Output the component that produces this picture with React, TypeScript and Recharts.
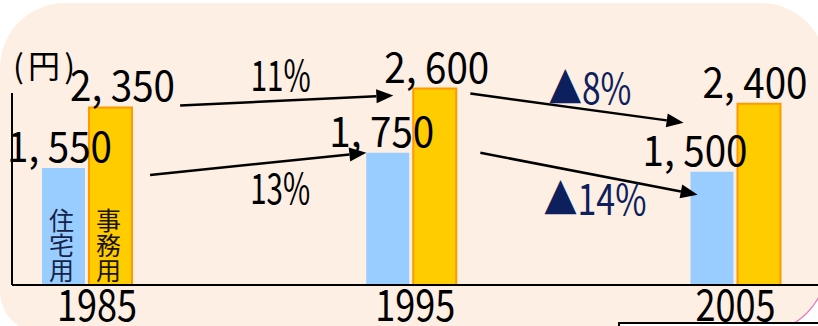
import { ComposedChart, Bar, XAxis, YAxis, LabelList, ReferenceLine } from 'recharts';

const years = [1985, 1995, 2005];
const residential = [1550, 1750, 1500];
const office = [2350, 2600, 2400];
const seriesNames = ['住宅用', '事務用'];
const changeTexts = ['11%', '13%', '▲8%', '▲14%'];
const changeSeries = ['office', 'residential', 'office', 'residential'];
const changeFrom = [0, 0, 1, 1];
const changeTo = [1, 1, 2, 2];

const data = years.map((year, i) => ({ year, residential: residential[i], office: office[i] }));

const FONT = '"Noto Sans CJK JP", sans-serif';
const X_DOMAIN: [number, number] = [1982.684, 2007.541];
const Y_DOMAIN: [number, number] = [0, 3600];
const Y_AXIS_TOP = 2540;

// hand placed bits of the original slide (pixel nudges)
const tickDx = [10, 4, 0];
const residentialLabelDx = [-4, -6, -17];
const officeLabelDx = [12, 2, -4];
const arrowLayout = [
  { sx: 93, sy: -2, ex: -18, ey: 7, tdx: -6, tdy: -10, color: '#000' },
  { sx: 63, sy: 7, ex: -45, ey: 0, tdx: 22, tdy: 42, color: '#000' },
  { sx: 59, sy: 5, ex: -52, ey: 19, tdx: 13, tdy: -6, color: '#0d1f5c' },
  { sx: 69, sy: 0, ex: -38, ey: 23, tdx: 6, tdy: 40, color: '#0d1f5c' },
];

// narrow half-width look of the original font
const charW: Record<string, number> = { ',': 7, ' ': 18, '%': 20, '▲': 43 };
const textW = (s: string) => s.split('').reduce((w, ch) => w + (charW[ch] ?? 20), 0);

const fmt = (v: number) => v.toLocaleString('en-US').replace(',', ', ');

const NarrowText = ({ x, y, text, size, color = '#000' }: any) => (
  <text
    x={x}
    y={y}
    textAnchor="middle"
    fontSize={size}
    fontFamily={FONT}
    fill={color}
    textLength={textW(text)}
    lengthAdjust="spacingAndGlyphs"
  >
    {text}
  </text>
);

const valueLabel = (dx: number[]) => (props: any) => {
  const vb = props.viewBox || props;
  const i = props.index;
  return <NarrowText x={vb.x + vb.width / 2 + dx[i]} y={vb.y - 6} text={fmt(Number(props.value))} size={42} />;
};

const yearTick = (props: any) => (
  <NarrowText x={props.x + tickDx[props.index]} y={321} text={String(props.payload.value)} size={44} />
);

const arrowShape = (idx: number) => (p: any) => {
  const l = arrowLayout[idx];
  const sx = p.x1 + l.sx, sy = p.y1 + l.sy;
  const ex = p.x2 + l.ex, ey = p.y2 + l.ey;
  const a = Math.atan2(ey - sy, ex - sx);
  const c = Math.cos(a), s = Math.sin(a);
  const bx = ex - 17 * c, by = ey - 17 * s;
  const tx = (sx + ex) / 2 + l.tdx;
  const lineY = sy + ((tx - sx) / (ex - sx)) * (ey - sy);
  return (
    <g>
      <line x1={sx} y1={sy} x2={bx} y2={by} stroke="#000" strokeWidth={2.5} />
      <polygon
        points={`${ex},${ey} ${bx - 7 * s},${by + 7 * c} ${bx + 7 * s},${by - 7 * c}`}
        fill="#000"
      />
      <NarrowText x={tx} y={lineY + l.tdy} text={changeTexts[idx]} size={42} color={l.color} />
    </g>
  );
};

const yAxisShape = (p: any) => (
  <g>
    <line x1={p.x1} y1={p.y1} x2={p.x2} y2={p.y2} stroke="#000" strokeWidth={2} />
    <text
      x={p.x2 + 1}
      y={p.y2 - 15}
      fontSize={32}
      fontFamily={FONT}
      fill="#000"
      textLength={62}
      lengthAdjust="spacing"
    >
      (円)
    </text>
  </g>
);

const verticalName = (name: string, color: string) => (props: any) => {
  if (props.index !== 0) return null;
  const vb = props.viewBox || props;
  return (
    <text
      x={vb.x + vb.width / 2 - 2}
      y={vb.y + vb.height - 2}
      textAnchor="end"
      fontSize={25}
      fontFamily={FONT}
      fill={color}
      style={{ writingMode: 'vertical-rl' }}
    >
      {name}
    </text>
  );
};

export default function App() {
  return (
    <div style={{ position: 'absolute', left: 0, top: 0, width: 818, height: 326, background: '#fff', overflow: 'hidden' }}>
      <svg width={818} height={326} style={{ position: 'absolute', left: 0, top: 0 }}>
        <path
          d="M65,3 H761 A65,65 0 0 1 826,68 V267 A65,65 0 0 1 761,332 H40 A40,40 0 0 1 0,292 V68 A65,65 0 0 1 65,3 Z"
          fill="#fdefe4"
        />
        <path d="M826,267 A65,65 0 0 1 761,332" fill="none" stroke="#e27cc0" strokeWidth={1.2} />
      </svg>
      <div style={{ position: 'absolute', left: 0, top: 0 }}>
        <ComposedChart width={818} height={326} data={data} margin={{ top: 13, right: 0, bottom: 0, left: 12 }}>
          <XAxis
            dataKey="year"
            type="number"
            domain={X_DOMAIN}
            ticks={years}
            interval={0}
            height={41}
            axisLine={{ stroke: '#000', strokeWidth: 2 }}
            tickLine={false}
            tick={yearTick}
          />
          <YAxis hide domain={Y_DOMAIN} />
          <Bar dataKey="residential" name={seriesNames[0]} fill="#99ccff" barSize={43} isAnimationActive={false}>
            <LabelList dataKey="residential" content={valueLabel(residentialLabelDx)} />
            <LabelList dataKey="residential" content={verticalName(seriesNames[0], '#14244a')} />
          </Bar>
          <Bar dataKey="office" name={seriesNames[1]} fill="#ffcc00" stroke="#ff9900" strokeWidth={2} barSize={43} isAnimationActive={false}>
            <LabelList dataKey="office" content={valueLabel(officeLabelDx)} />
            <LabelList dataKey="office" content={verticalName(seriesNames[1], '#1a1400')} />
          </Bar>
          <ReferenceLine
            segment={[{ x: X_DOMAIN[0], y: 0 }, { x: X_DOMAIN[0], y: Y_AXIS_TOP }]}
            shape={yAxisShape}
          />
          {changeTexts.map((t, i) => {
            const vals = changeSeries[i] === 'office' ? office : residential;
            return (
              <ReferenceLine
                key={t}
                segment={[
                  { x: years[changeFrom[i]], y: vals[changeFrom[i]] },
                  { x: years[changeTo[i]], y: vals[changeTo[i]] },
                ]}
                shape={arrowShape(i)}
              />
            );
          })}
        </ComposedChart>
      </div>
      <svg width={818} height={326} style={{ position: 'absolute', left: 0, top: 0, pointerEvents: 'none' }}>
        <rect x={619} y={323} width={220} height={20} fill="#fff" stroke="#000" strokeWidth={2} />
      </svg>
    </div>
  );
}
